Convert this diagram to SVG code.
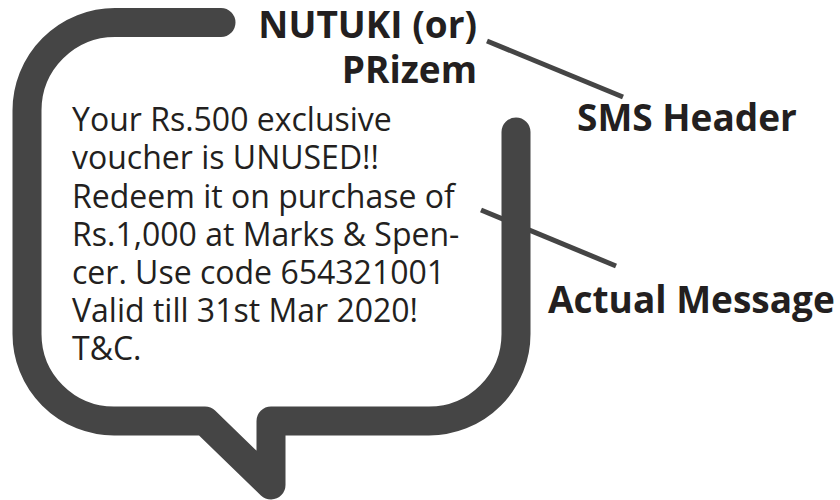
<svg xmlns="http://www.w3.org/2000/svg" width="840" height="500" viewBox="0 0 840 500">
<style>
.body{font-family:"Open Sans","Liberation Sans",sans-serif;font-size:32px;fill:#231f20}
.lbl{font-family:"Open Sans","Liberation Sans",sans-serif;font-size:37px;font-weight:bold;fill:#231f20}
.bub{fill:none;stroke:#454545;stroke-width:29;stroke-linecap:round;stroke-linejoin:round}
.conn{stroke:#454545;stroke-width:5;fill:none}
</style>
<rect width="840" height="500" fill="#ffffff"/>
<g id="connectors">
<line class="conn" x1="487" y1="41" x2="623" y2="97"/>
<line class="conn" x1="481" y1="210" x2="616" y2="266"/>
</g>
<g id="bubble">
<path class="bub" d="M221,22.5 L115,22.5 A88,88 0 0 0 27,110.5 L27,334 A87,87 0 0 0 114,421 L205,421 L271,485 L271,421 L429,421 A87,87 0 0 0 516,334 L516,132"/>
</g>
<g id="message">
<text class="body" x="72">
<tspan x="72" y="131">Your Rs.500 exclusive</tspan>
<tspan x="72" y="169">voucher is UNUSED!!</tspan>
<tspan x="72" y="207.5">Redeem it on purchase of</tspan>
<tspan x="72" y="246">Rs.1,000 at Marks &amp; Spen-</tspan>
<tspan x="72" y="284">cer. Use code 654321001</tspan>
<tspan x="72" y="322">Valid till 31st Mar 2020!</tspan>
<tspan x="72" y="360">T&amp;C.</tspan>
</text>
</g>
<g id="sender">
<text class="lbl" text-anchor="end"><tspan x="477" y="38">NUTUKI (or)</tspan><tspan x="477" y="83">PRizem</tspan></text>
</g>
<g id="sms-header-label">
<text class="lbl" x="577" y="131">SMS Header</text>
</g>
<g id="actual-message-label">
<text class="lbl" x="548" y="313">Actual Message</text>
</g>
</svg>
